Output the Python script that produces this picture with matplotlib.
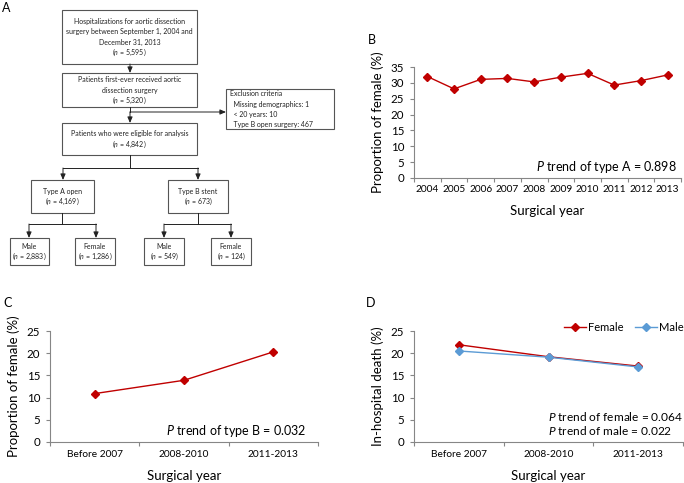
#Recreating the figure: flowchart (A) plus three line charts (B, C, D)
import matplotlib
matplotlib.use("Agg")
import matplotlib.pyplot as plt
from matplotlib.patches import Rectangle
from matplotlib.ticker import MultipleLocator, FixedLocator

plt.rcParams['font.family'] = ['Lato', 'DejaVu Sans']
plt.rcParams['mathtext.fontset'] = 'custom'
plt.rcParams['mathtext.it'] = 'Lato:italic'
plt.rcParams['mathtext.rm'] = 'Lato'

#data for panel B
years = ['2004', '2005', '2006', '2007', '2008', '2009', '2010', '2011', '2012', '2013']
female_typeA = [32.0, 28.1, 31.1, 31.4, 30.3, 31.8, 33.0, 29.3, 30.7, 32.5]

#data for panels C and D
periods = ['Before 2007', '2008-2010', '2011-2013']
female_typeB = [10.9, 13.9, 20.3]
death_female = [21.9, 19.2, 17.1]
death_male = [20.5, 19.1, 16.9]

RED = '#C00000'
BLUE = '#5B9BD5'
SPINE = '#868686'

W, H = 684, 483
fig = plt.figure(figsize=(W / 100, H / 100), dpi=100)

def px_axes(left, top, right, bottom):
    return fig.add_axes([left / W, (H - bottom) / H, (right - left) / W, (bottom - top) / H])

#flowchart drawn in pixel coordinates on an overlay axes
fc = fig.add_axes([0, 0, 1, 1])
fc.set_xlim(0, W)
fc.set_ylim(H, 0)
fc.axis('off')

def box(x0, y0, x1, y1, lines, left=False):
    fc.add_patch(Rectangle((x0, y0), x1 - x0, y1 - y0, fill=False, ec='#555555', lw=0.8))
    n = len(lines)
    step = 10.5 if not left else 10
    ystart = (y0 + y1) / 2 - (n - 1) * step / 2
    for i, t in enumerate(lines):
        if left:
            fc.text(x0 + 4, ystart + i * step, t, fontsize=5.0, ha='left', va='center', color='#222222')
        else:
            fc.text((x0 + x1) / 2, ystart + i * step, t, fontsize=5.0, ha='center', va='center', color='#222222')

def arrow(x0, y0, x1, y1):
    fc.annotate('', xy=(x1, y1), xytext=(x0, y0),
                arrowprops=dict(arrowstyle='-|>,head_length=0.35,head_width=0.15', color='#222222', lw=0.7,
                                shrinkA=0, shrinkB=0))

def line(xs, ys):
    fc.plot(xs, ys, color='#222222', lw=0.7)

box(62, 10, 197, 64, ['Hospitalizations for aortic dissection', 'surgery between September 1, 2004 and',
                      'December 31, 2013', r'($n$ = 5,595)'])
arrow(130, 64, 130, 73)
box(62, 73, 197, 107, ['Patients first-ever received aortic', 'dissection surgery', r'($n$ = 5,320)'])
line([130, 130], [107, 112])
arrow(130, 112, 226, 112)
arrow(130, 112, 130, 123)
box(226, 89, 334, 129, ['Exclusion criteria', '  Missing demographics: 1', '  < 20 years: 10',
                        '  Type B open surgery: 467'], left=True)
box(62, 123, 197, 155, ['Patients who were eligible for analysis', r'($n$ = 4,842)'])
line([130, 130], [155, 168])
line([63, 198], [168, 168])
arrow(63, 168, 63, 180)
arrow(198, 168, 198, 180)
box(31, 180, 94, 213, ['Type A open', r'($n$ = 4,169)'])
box(168, 180, 228, 213, ['Type B stent', r'($n$ = 673)'])
line([62, 62], [213, 224])
line([29, 96], [224, 224])
arrow(29, 224, 29, 238)
arrow(96, 224, 96, 238)
line([198, 198], [213, 224])
line([164, 231], [224, 224])
arrow(164, 224, 164, 238)
arrow(231, 224, 231, 238)
box(10, 238, 49, 265, ['Male', r'($n$ = 2,883)'])
box(75, 238, 115, 265, ['Female', r'($n$ = 1,286)'])
box(144, 238, 184, 265, ['Male', r'($n$ = 549)'])
box(211, 238, 251, 265, ['Female', r'($n$ = 124)'])

#panel letters
for letter, x, y in [('A', 2, 8), ('B', 368, 40), ('C', 3, 303), ('D', 366, 303)]:
    fc.text(x, y, letter, fontsize=9, ha='left', va='center')

def style(ax, ncat, top, ylabel):
    ax.set_xlim(-0.5, ncat - 0.5)
    ax.set_ylim(0, top)
    for s in ['top', 'right']:
        ax.spines[s].set_visible(False)
    for s in ['left', 'bottom']:
        ax.spines[s].set_color(SPINE)
        ax.spines[s].set_linewidth(0.8)
    ax.yaxis.set_major_locator(MultipleLocator(5))
    ax.xaxis.set_minor_locator(FixedLocator([i + 0.5 for i in range(-1, ncat)]))
    ax.tick_params(axis='x', which='major', length=0, labelsize=7.3, pad=6)
    ax.tick_params(axis='x', which='minor', length=3, color=SPINE, width=0.8)
    ax.tick_params(axis='y', length=3, color=SPINE, width=0.8, labelsize=8.3, pad=4)
    ax.set_xlabel('Surgical year', fontsize=9.5, labelpad=8)
    ax.set_ylabel(ylabel, fontsize=9.5, labelpad=5)
    ax.patch.set_alpha(0)

#panel B
axB = px_axes(414, 67, 681, 178)
axB.plot(range(len(years)), female_typeA, color=RED, marker='D', markersize=4.5, lw=1)
axB.set_xticks(range(len(years)))
axB.set_xticklabels(years)
style(axB, len(years), 35, 'Proportion of female (%)')
axB.tick_params(axis='x', which='major', pad=5)
axB.text(0.985, 0.1, r'$\it{P}$ trend of type A = 0.898', transform=axB.transAxes, ha='right', va='center', fontsize=9)

#panel C
axC = px_axes(50, 331, 318, 442)
axC.plot(range(len(periods)), female_typeB, color=RED, marker='D', markersize=4.5, lw=1)
axC.set_xticks(range(len(periods)))
axC.set_xticklabels(periods)
style(axC, len(periods), 25, 'Proportion of female (%)')
axC.text(0.955, 0.1, r'$\it{P}$ trend of type B = 0.032', transform=axC.transAxes, ha='right', va='center', fontsize=9)

#panel D
axD = px_axes(414, 331, 683, 442)
axD.plot(range(len(periods)), death_female, color=RED, marker='D', markersize=4.5, lw=1, label='Female')
axD.plot(range(len(periods)), death_male, color=BLUE, marker='D', markersize=4.5, lw=1, label='Male')
axD.set_xticks(range(len(periods)))
axD.set_xticklabels(periods)
style(axD, len(periods), 25, 'In-hospital death (%)')
axD.legend(loc='upper right', bbox_to_anchor=(1.02, 1.12), ncol=2, frameon=False, fontsize=8,
           handlelength=2.0, columnspacing=1.0, handletextpad=0.2, borderaxespad=0)
axD.text(0.5, 0.23, r'$\it{P}$ trend of female = 0.064', transform=axD.transAxes, ha='left', va='center', fontsize=8.6)
axD.text(0.5, 0.10, r'$\it{P}$ trend of male = 0.022', transform=axD.transAxes, ha='left', va='center', fontsize=8.6)

fig.savefig('out.png', dpi=100)
